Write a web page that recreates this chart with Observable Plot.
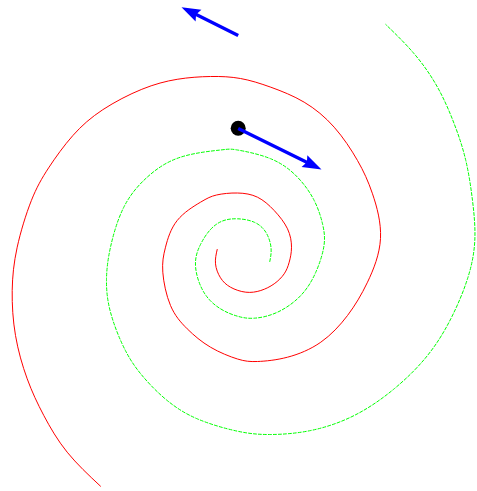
<!DOCTYPE html>
<html>
<head>
<meta charset="utf-8">
<script src="https://cdn.jsdelivr.net/npm/d3@7"></script>
<script src="https://cdn.jsdelivr.net/npm/@observablehq/plot@0.6"></script>
<style>
  html, body { margin: 0; padding: 0; background: #fff; }
  #chart svg { display: block; }
</style>
</head>
<body>
<div id="chart"></div>
<script>
const redX = [216.7,215,220,230,245.3,260.3,273.7,283.7,288.7,291,287,273.7,257,237,216,200,176.7,165,162.3,170,186.7,210,237,257,287,320.3,347,367,380,372,357,333.7,303.7,270.3,240,210,176.7,141.3,102.3,72.4,48.1,30.8,16.7,11.7,15,26.7,43.3,66.7,100];
const redY = [249,263.3,277.3,286.7,291.7,290,283.3,273.3,261.7,246.7,228.3,210,196.7,192.5,194.5,201.7,220,246.7,271.7,305,328.3,346.7,358.5,361,356.7,341.7,315,281.7,238,193.3,160,126.7,101.7,86.7,78,76,78.8,88.8,109.2,135,167.4,200.2,246.7,290,335,378.3,415,451.7,485.7];

const greenX = [269.3,270.5,265.3,253.7,237,222,210,200,195,203.3,220,237,253.7,277,300.3,315.3,323.5,322,313.7,297,270.3,237,220,180,146.7,123.3,110,106,110,125.1,143.9,166.7,196.7,237,270.3,310.3,353.7,393.7,427,450.3,467,474.3,472,465.3,453.7,437,413.7,385.3];
const greenY = [261,247,231.7,221.7,218.3,220.5,229,244,265,291.7,308.3,315.7,317.7,311.7,295,271.7,245,223.3,200,176.7,158.3,149.5,149.5,156.7,176.7,206.7,246.7,279,311.7,350.4,377.7,400,418.3,430.7,434,430,415,388.3,355,318.3,278.3,240,200,160,123.3,86.7,53.3,24];

const dotX = [237.7];
const dotY = [127.8];

const arrowTailX = [237.7, 237.7];
const arrowTailY = [128, 35];
const arrowTipX = [321, 181];
const arrowTipY = [169, 6.7];

// build tables
const red = redX.map((x, i) => ({x, y: redY[i]}));
const green = greenX.map((x, i) => ({x, y: greenY[i]}));
const dots = dotX.map((x, i) => ({x, y: dotY[i]}));
const arrows = arrowTailX.map((x, i) => ({
  x, y: arrowTailY[i], x2: arrowTipX[i], y2: arrowTipY[i]
}));

// filled quiver-style arrow shape (points up, length l)
const shaftW = 3.4, headW = 13, headL = 19, headAxisL = 17;
const arrowShape = {
  draw(context, l) {
    context.moveTo(-shaftW / 2, 0);
    context.lineTo(-shaftW / 2, -(l - headAxisL));
    context.lineTo(-headW / 2, -(l - headL));
    context.lineTo(0, -l);
    context.lineTo(headW / 2, -(l - headL));
    context.lineTo(shaftW / 2, -(l - headAxisL));
    context.lineTo(shaftW / 2, 0);
    context.closePath();
  }
};

const W = 477, H = 491;
const chart = Plot.plot({
  width: W,
  height: H,
  margin: 0,
  x: {domain: [0, W], axis: null},
  y: {domain: [0, H], reverse: true, axis: null},
  length: {type: "identity"},
  style: {background: "white"},
  marks: [
    Plot.line(red, {x: "x", y: "y", stroke: "#ff0000", strokeWidth: 1, curve: "natural"}),
    Plot.line(green, {x: "x", y: "y", stroke: "#00ff00", strokeWidth: 1, strokeDasharray: "3,2", curve: "natural"}),
    Plot.dot(dots, {x: "x", y: "y", r: 7.5, fill: "black", stroke: "none"}),
    Plot.vector(arrows, {
      x: "x", y: "y",
      anchor: "start",
      length: d => Math.hypot(d.x2 - d.x, d.y2 - d.y),
      rotate: d => Math.atan2(d.x2 - d.x, -(d.y2 - d.y)) * 180 / Math.PI,
      shape: arrowShape,
      fill: "#0000ff",
      stroke: "none"
    })
  ]
});
document.getElementById("chart").appendChild(chart);
</script>
</body>
</html>
